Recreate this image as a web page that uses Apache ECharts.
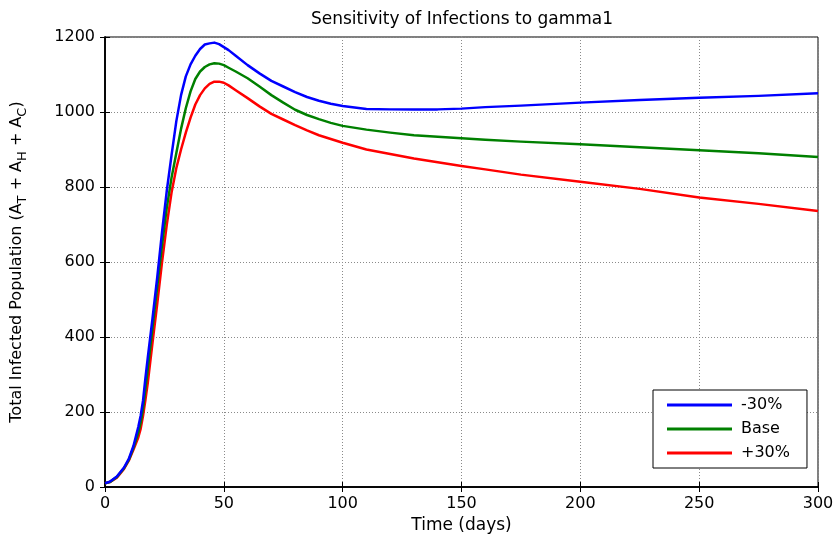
<!DOCTYPE html>
<html><head><meta charset="utf-8">
<script src="https://cdn.jsdelivr.net/npm/echarts@6/dist/echarts.min.js"></script>
<style>html,body{margin:0;padding:0;background:#fff}#c{width:838px;height:537px}</style>
</head><body><div id="c"></div>
<script>
const days = [0,2,5,8,10,12,14,15,16,17,18,20,22,24,26,28,30,32,34,36,38,40,42,44,46,48,50,52,55,60,65,70,75,80,85,90,95,100,110,120,130,140,150,160,175,200,225,250,275,300];
const minus30 = [10,14,28,52,75,110,160,190,230,290,345,450,560,680,790,885,975,1045,1095,1127,1150,1168,1180,1183,1185,1181,1173,1165,1150,1125,1103,1083,1068,1053,1040,1030,1022,1016,1008,1007,1007,1007,1009,1013,1017,1025,1032,1038,1043,1050];
const base = [10,13,27,50,72,105,145,172,210,262,315,425,535,645,745,825,890,955,1010,1055,1088,1108,1120,1127,1130,1129,1125,1118,1108,1090,1068,1045,1025,1006,992,981,971,963,953,945,938,934,930,926,921,914,906,898,890,880];
const plus30 = [10,13,25,48,70,100,132,155,190,232,278,385,490,600,700,785,850,900,945,985,1020,1045,1063,1075,1081,1081,1078,1071,1058,1037,1015,995,980,965,951,938,928,918,900,888,876,866,856,847,833,814,795,772,755,736];
const seriesNames = ['-30%','Base','+30%'];
const seriesColors = ['#0000ff','#008000','#ff0000'];
const xTicks = {min:0,max:300,interval:50};
const yTicks = {min:0,max:1200,interval:200};

const chart = echarts.init(document.getElementById('c'));
const font = 'DejaVu Sans, Arial, sans-serif';
const pair = arr => days.map((d,i)=>[d,arr[i]]);
const vals = [minus30, base, plus30];
const gridLine = {show:true,lineStyle:{color:'#8a8a8a',type:[1,2],width:1}};
const tick = {show:true,inside:true,length:5,lineStyle:{color:'#000'}};
const axLine = {show:true,lineStyle:{color:'#000',width:1.5}};
chart.setOption({
  animation:false,
  title:{text:'Sensitivity of Infections to gamma1',left:457,top:6,textAlign:'center',
    textStyle:{fontFamily:font,fontSize:17,fontWeight:'normal',color:'#000'}},
  grid:{left:105,right:20,top:37,bottom:50,show:true,borderColor:'#000',borderWidth:1,
    containLabel:false,outerBoundsMode:'none'},
  legend:{orient:'vertical',left:653,top:390,
    backgroundColor:'#fff',borderColor:'#000',borderWidth:1,
    padding:[7,17,7,14],itemGap:8,itemWidth:65,itemHeight:3,icon:'rect',
    textStyle:{fontFamily:font,fontSize:16,lineHeight:16,color:'#000',padding:[0,0,0,4]},
    data:seriesNames},
  xAxis:[{type:'value',...xTicks,name:'Time (days)',nameLocation:'middle',nameGap:30,
    nameTextStyle:{fontFamily:font,fontSize:17,color:'#000'},
    axisLine:axLine,axisTick:tick,
    axisLabel:{fontFamily:font,fontSize:16,color:'#000',margin:9},
    splitLine:gridLine},
    {type:'value',...xTicks,position:'top',axisLine:axLine,axisTick:tick,axisLabel:{show:false},splitLine:{show:false}}],
  yAxis:[{type:'value',...yTicks,
    name:'Total Infected Population (A{s|T} + A{s|H} + A{s|C})',nameLocation:'middle',nameGap:76,
    nameTextStyle:{fontFamily:font,fontSize:16,color:'#000',
      rich:{s:{fontFamily:font,fontSize:13,color:'#000',padding:[12,0,0,0]}}},
    axisLine:axLine,axisTick:tick,
    axisLabel:{fontFamily:font,fontSize:16,color:'#000',margin:10,formatter:v=>String(v)},
    splitLine:gridLine},
    {type:'value',...yTicks,position:'right',axisLine:axLine,axisTick:tick,axisLabel:{show:false},splitLine:{show:false}}],
  series:seriesNames.map((n,i)=>({name:n,type:'line',data:pair(vals[i]),showSymbol:false,symbol:'none',
    smooth:false,lineStyle:{color:seriesColors[i],width:2.5,join:'round'},itemStyle:{color:seriesColors[i]},z:3-i}))
});
</script></body></html>
